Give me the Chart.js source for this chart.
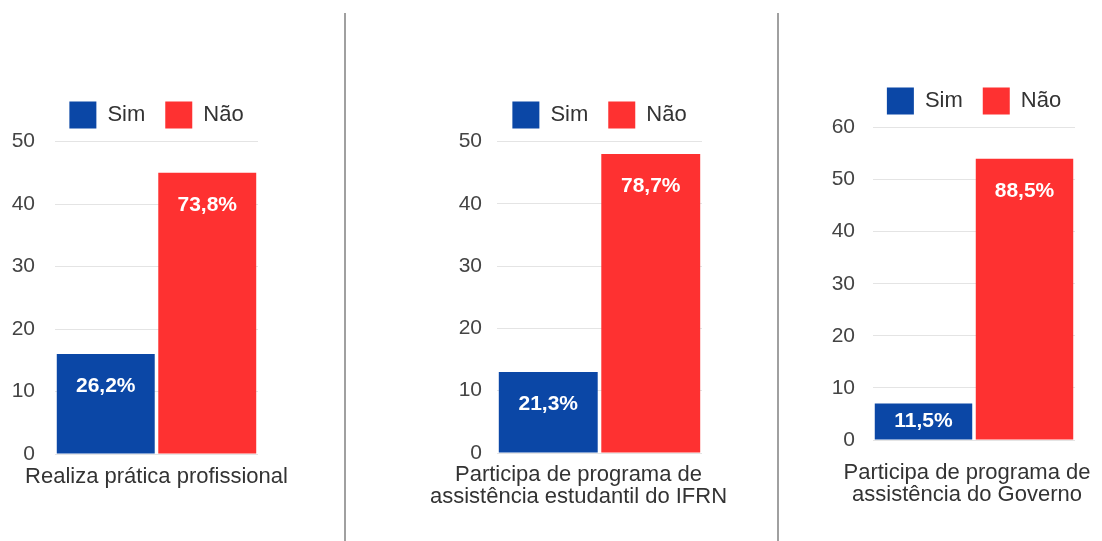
<!DOCTYPE html>
<html>
<head>
<meta charset="utf-8">
<script src="https://cdn.jsdelivr.net/npm/chart.js@4.4.0/dist/chart.umd.min.js"></script>
<style>
  body { margin: 0; background: #fff; width: 1102px; height: 541px; position: relative; overflow: hidden; }
  .panel { position: absolute; }
  .sep { position: absolute; top: 13px; bottom: 0; width: 2px; background: #a0a0a0; }
</style>
</head>
<body>
<div class="sep" style="left:344px"></div>
<div class="sep" style="left:777px"></div>
<div class="panel" style="left:0px;top:60px;width:300px;height:450px"><canvas id="c1"></canvas></div>
<div class="panel" style="left:400px;top:60px;width:345px;height:470px"><canvas id="c2"></canvas></div>
<div class="panel" style="left:800px;top:46px;width:302px;height:484px"><canvas id="c3"></canvas></div>
<script>
// data
const seriesNames = ['Sim', 'Não'];
const seriesColors = ['#0b47a6', '#fe3131'];
const categories = [
    'Realiza prática profissional',
    ['Participa de programa de', 'assistência estudantil do IFRN'],
    ['Participa de programa de', 'assistência do Governo']
];
const simValues = [16, 13, 7];
const naoValues = [45, 48, 54];
const yMax = [50, 50, 60];

// layout of each small chart
const panels = [
    { id: 'c1', tickPad: 20, pad: { top: 21.5, left: 0, right: 42, bottom: 16 }, xHeight: 40, xPad: 12, labelOffset: 0 },
    { id: 'c2', tickPad: 15, pad: { top: 21.5, left: 42, right: 43, bottom: 17 }, xHeight: 60, xPad: 11, labelOffset: -21 },
    { id: 'c3', tickPad: 18, pad: { top: 21.5, left: 18, right: 27, bottom: 20 }, xHeight: 70, xPad: 22, labelOffset: -7 }
];

Chart.defaults.font.family = '"Liberation Sans", Arial, sans-serif';

// legend: one row centred over the plot, sitting close to it
const legendFit = {
    id: 'legendFit',
    beforeInit(chart) {
        const fit = chart.legend.fit;
        chart.legend.fit = function () {
            const mw = this.maxWidth;
            this.maxWidth = mw + 80;
            fit.call(this);
            this.maxWidth = mw;
            this.width = Math.min(this.width, mw);
            this.height = 60;
        };
    },
    afterLayout(chart) {
        const l = chart.legend;
        l.left -= 40;
        l.right += 40;
        l.width = l.right - l.left;
    }
};

// percentage inside each bar
const barLabels = {
    id: 'barLabels',
    afterDatasetsDraw(chart) {
        const ctx = chart.ctx;
        const totals = chart.data.labels.map((_, j) =>
            chart.data.datasets.reduce((s, d) => s + d.data[j], 0));
        ctx.save();
        ctx.font = 'bold 21px "Liberation Sans", Arial, sans-serif';
        ctx.fillStyle = '#fff';
        ctx.textAlign = 'center';
        ctx.textBaseline = 'middle';
        chart.data.datasets.forEach((ds, k) => {
            chart.getDatasetMeta(k).data.forEach((bar, j) => {
                const pct = (ds.data[j] / totals[j] * 100).toFixed(1).replace('.', ',') + '%';
                const y = bar.y + Math.min(32, (bar.base - bar.y) / 2);
                ctx.fillText(pct, bar.x, y);
            });
        });
        ctx.restore();
    }
};

panels.forEach((p, i) => {
    const values = [simValues[i], naoValues[i]];
    new Chart(document.getElementById(p.id), {
        type: 'bar',
        data: {
            labels: [categories[i]],
            datasets: seriesNames.map((name, k) => ({
                label: name,
                data: [values[k]],
                backgroundColor: seriesColors[k],
                categoryPercentage: 1,
                barPercentage: 0.965
            }))
        },
        options: {
            responsive: true,
            maintainAspectRatio: false,
            animation: false,
            layout: { padding: p.pad },
            plugins: {
                legend: {
                    position: 'top',
                    fullSize: false,
                    labels: { boxWidth: 27, boxHeight: 27, padding: 20, color: '#333', font: { size: 22 } }
                },
                tooltip: { enabled: false }
            },
            scales: {
                x: {
                    grid: { display: false, drawTicks: false },
                    border: { display: false },
                    ticks: {
                        color: '#333', font: { size: 22, lineHeight: 1 }, padding: p.xPad,
                        maxRotation: 0, minRotation: 0, autoSkip: false, labelOffset: p.labelOffset
                    },
                    afterFit: s => { s.paddingLeft = 0; s.paddingRight = 0; s.height = p.xHeight; }
                },
                y: {
                    min: 0,
                    max: yMax[i],
                    ticks: { stepSize: 10, color: '#444', font: { size: 21 }, padding: p.tickPad },
                    grid: { color: '#e4e4e4', drawTicks: false },
                    border: { display: false },
                    afterFit: s => { s.width = 55; }
                }
            }
        },
        plugins: [legendFit, barLabels]
    });
});
</script>
</body>
</html>
